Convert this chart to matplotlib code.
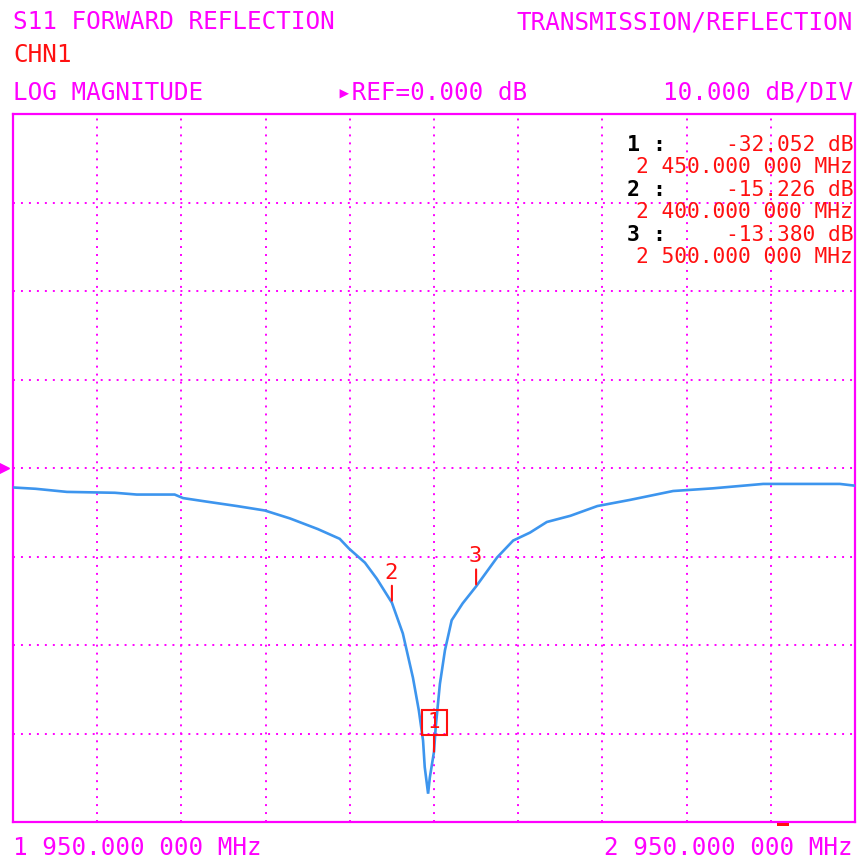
import matplotlib
matplotlib.use("Agg")
import matplotlib.pyplot as plt
import matplotlib.transforms as mtransforms
from matplotlib.patches import Rectangle

# ---- trace data (MHz, dB)
freq_mhz = [1950, 1977, 2014, 2071, 2097, 2142, 2152, 2180, 2216, 2249,
            2279, 2312, 2338, 2349, 2368, 2382, 2400, 2413, 2425, 2432,
            2437, 2439, 2443, 2445, 2450, 2452, 2457, 2463, 2471, 2484,
            2500, 2525, 2544, 2564, 2584, 2612, 2644, 2683, 2734, 2781,
            2841, 2932, 2950]
s11_db = [-2.2, -2.35, -2.7, -2.8, -3.0, -3.0, -3.4, -3.8, -4.3, -4.8,
          -5.7, -6.9, -8.0, -9.1, -10.7, -12.5, -15.226, -18.7, -23.7, -27.4,
          -30.8, -33.8, -36.8, -35.0, -32.052, -29.3, -24.4, -20.6, -17.2, -15.3,
          -13.38, -10.1, -8.2, -7.3, -6.1, -5.4, -4.3, -3.6, -2.6, -2.3,
          -1.8, -1.8, -2.0]

# ---- markers
marker_ids = [1, 2, 3]
marker_freqs = [2450.0, 2400.0, 2500.0]
marker_vals = [-32.052, -15.226, -13.380]

start_mhz = 1950.0
stop_mhz = 2950.0
ref_level = 0.0
db_per_div = 10.0

MAG = "#ff00ff"
RED = "#ff1010"
TRACE = "#3d95ee"
MONO = ["DejaVu Sans Mono", "DejaVu Sans"]

W, H = 857, 859


def fmt_freq(mhz):
    s = f"{mhz:,.6f}".replace(",", " ")
    return s[:-3] + " " + s[-3:] + " MHz"


def px(x, y):
    return x / W, 1 - y / H


fig = plt.figure(figsize=(W / 100, H / 100), dpi=100)
ax = fig.add_axes([13 / W, 1 - 822 / H, 842 / W, 708 / H])

ax.plot(freq_mhz, s11_db, color=TRACE, lw=1.9, solid_joinstyle="miter", zorder=3)

ax.set_xlim(start_mhz, stop_mhz)
ax.set_ylim(ref_level - 4 * db_per_div, ref_level + 4 * db_per_div)
ax.set_xticks([start_mhz + i * 100 for i in range(11)])
ax.set_yticks([ref_level + i * db_per_div for i in range(-4, 5)])
ax.tick_params(length=0, labelbottom=False, labelleft=False)
ax.grid(True, color=MAG, lw=1.4, linestyle=(0, (1, 3.1)))
for sp in ax.spines.values():
    sp.set_color(MAG)
    sp.set_linewidth(1.6)

# reference level pointer on the left
ax.plot([-9 / 842], [ref_level], marker=">", ms=7, color=MAG,
        transform=ax.get_yaxis_transform(), clip_on=False)

# ---- markers on the trace
for mid, mf, mv in zip(marker_ids, marker_freqs, marker_vals):
    if mid == 1:
        box_tr = mtransforms.offset_copy(ax.transData, fig=fig, x=0, y=30 * 0.72, units="points")
        ax.plot([mf], [mv], marker="s", ms=18, mfc="none", mec=RED, mew=1.5,
                transform=box_tr, zorder=5)
        ax.text(mf, mv, str(mid), transform=box_tr, ha="center", va="center",
                color=RED, fontsize=15, family=MONO, zorder=5)
        ax.annotate("", xy=(mf, mv), xytext=(0, 17 * 0.72), textcoords="offset points",
                    arrowprops=dict(arrowstyle="-", color=RED, lw=1.5, shrinkA=0, shrinkB=0),
                    zorder=5)
    else:
        ax.annotate("", xy=(mf, mv), xytext=(0, 17 * 0.72), textcoords="offset points",
                    arrowprops=dict(arrowstyle="-", color=RED, lw=1.5, shrinkA=0, shrinkB=1.5),
                    zorder=5)
        ax.annotate(str(mid), xy=(mf, mv), xytext=(-1 * 0.72, 24 * 0.72),
                    textcoords="offset points", ha="center", va="baseline",
                    color=RED, fontsize=16, family=MONO, zorder=5)

# ---- marker readout (top right)
row_base = 151
row_step = 22.4
for i, (mid, mf, mv) in enumerate(zip(marker_ids, marker_freqs, marker_vals)):
    y1 = row_base + 2 * i * row_step
    y2 = y1 + row_step
    fig.text(*px(627, y1), f"{mid} :", color="black", fontsize=15.5, family=MONO,
             fontweight="bold", va="baseline", ha="left")
    fig.text(*px(853, y1), f"{mv:.3f} dB", color=RED, fontsize=15.3, family=MONO,
             va="baseline", ha="right")
    fig.text(*px(853, y2), fmt_freq(mf), color=RED, fontsize=15.3, family=MONO,
             va="baseline", ha="right")

# ---- header / footer annotations
hdr = dict(fontsize=17.5, family=MONO, va="baseline")
fig.text(*px(13, 29), "S11 FORWARD REFLECTION", color=MAG, ha="left", **hdr)
fig.text(*px(853, 29), "TRANSMISSION/REFLECTION", color=MAG, ha="right", **hdr)
fig.text(*px(13, 62), "CHN1", color=RED, ha="left", **hdr)
fig.text(*px(13, 100), "LOG MAGNITUDE", color=MAG, ha="left", **hdr)
fig.text(*px(337, 100), f"\u25b8REF={ref_level:.3f} dB", color=MAG, ha="left", **hdr)
fig.text(*px(853, 100), f"{db_per_div:.3f} dB/DIV", color=MAG, ha="right", **hdr)
fig.text(*px(13, 855), fmt_freq(start_mhz), color=MAG, ha="left", **hdr)
fig.text(*px(853, 855), fmt_freq(stop_mhz), color=MAG, ha="right", **hdr)

# small sweep indicator under the frame
fig.patches.append(Rectangle(px(777, 826), 12 / W, 3 / H, transform=fig.transFigure,
                             color=RED, lw=0))

fig.savefig("out.png", dpi=100, facecolor="white")
